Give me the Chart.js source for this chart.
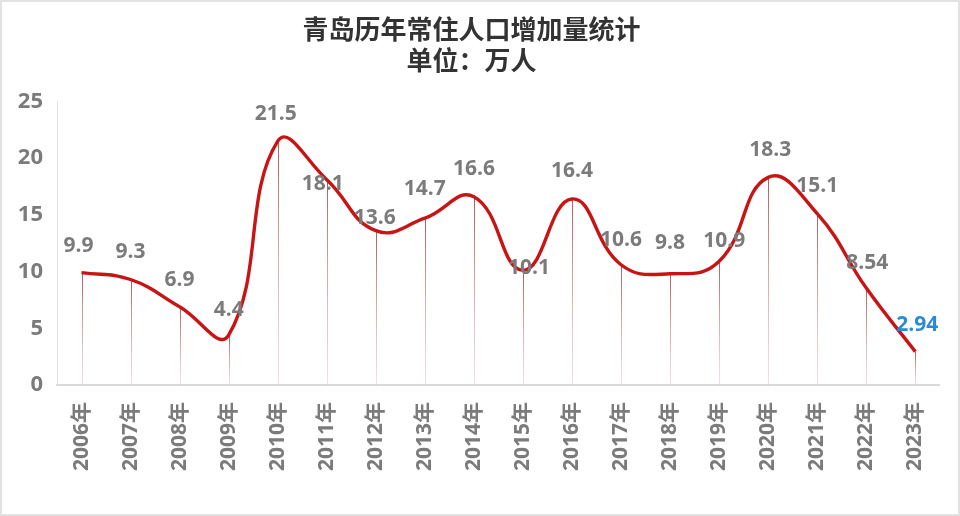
<!DOCTYPE html>
<html>
<head>
<meta charset="utf-8">
<script src="https://cdn.jsdelivr.net/npm/chart.js@4/dist/chart.umd.min.js"></script>
<style>
  html, body { margin: 0; padding: 0; background: #fff; }
  #wrap { position: relative; width: 960px; height: 516px; box-sizing: border-box; border: 2px solid #e2e2e2; }
  canvas { display: block; }
</style>
</head>
<body>
<div id="wrap"><canvas id="c" width="956" height="512"></canvas></div>
<script>
// ---- data ----
const titleLines = ['青岛历年常住人口增加量统计', '单位：万人'];
const years = ['2006年','2007年','2008年','2009年','2010年','2011年','2012年','2013年','2014年','2015年','2016年','2017年','2018年','2019年','2020年','2021年','2022年','2023年'];
const increase = [9.9, 9.3, 6.9, 4.4, 21.5, 18.1, 13.6, 14.7, 16.6, 10.1, 16.4, 10.6, 9.8, 10.9, 18.3, 15.1, 8.54, 2.94];
const labelTexts = ['9.9','9.3','6.9','4.4','21.5','18.1','13.6','14.7','16.6','10.1','16.4','10.6','9.8','10.9','18.3','15.1','8.54','2.94'];
const yTicks = [0, 5, 10, 15, 20, 25];

// ---- style ----
const CJK = '"Noto Sans CJK SC", sans-serif';
const NUM = '"Open Sans", "Noto Sans CJK SC", sans-serif';
const labelLift = [27, 27, 27, 25, 27, -4, 13, 29, 28, 2, 28, 25, 31, 20, 27, 28, 25, 27];
const labelShift = [-3, 0, 0, 0, -2, -4, -1, 0, 0, 6, 0, 0, 0, 5, 2, 0, 1, 2];

const dropLines = {
  id: 'dropLines',
  beforeDatasetsDraw(chart) {
    const ctx = chart.ctx;
    const meta = chart.getDatasetMeta(0);
    const base = chart.scales.y.getPixelForValue(0);
    ctx.save();
    ctx.lineWidth = 1;
    meta.data.forEach(pt => {
      const g = ctx.createLinearGradient(0, pt.y, 0, base);
      g.addColorStop(0, 'rgba(160,50,50,0.8)');
      g.addColorStop(1, 'rgba(220,170,170,0.35)');
      ctx.strokeStyle = g;
      ctx.beginPath();
      ctx.moveTo(Math.round(pt.x) + 0.5, pt.y);
      ctx.lineTo(Math.round(pt.x) + 0.5, base);
      ctx.stroke();
    });
    ctx.restore();
  }
};

const valueLabels = {
  id: 'valueLabels',
  afterDatasetsDraw(chart) {
    const ctx = chart.ctx;
    const meta = chart.getDatasetMeta(0);
    ctx.save();
    ctx.font = 'bold 21px ' + NUM;
    ctx.textAlign = 'center';
    ctx.textBaseline = 'middle';
    meta.data.forEach((pt, i) => {
      ctx.fillStyle = i === meta.data.length - 1 ? '#2a8ad4' : '#7b7b7b';
      ctx.fillText(labelTexts[i], pt.x + labelShift[i], pt.y - labelLift[i]);
    });
    ctx.restore();
  }
};

new Chart(document.getElementById('c'), {
  type: 'line',
  data: {
    labels: years,
    datasets: [{
      data: increase,
      borderColor: '#c81414',
      borderWidth: 3.4,
      tension: 0.45,
      pointRadius: 0,
      fill: false
    }]
  },
  options: {
    responsive: false,
    animation: false,
    layout: { padding: { left: 0, right: 17, top: 0, bottom: 0 } },
    plugins: {
      legend: { display: false },
      tooltip: { enabled: false },
      title: {
        display: true,
        text: titleLines,
        color: '#333333',
        font: { family: CJK, size: 26, weight: 'bold', lineHeight: 1.18 },
        padding: { top: 12, bottom: 26 }
      }
    },
    scales: {
      x: {
        offset: true,
        grid: { display: false, drawTicks: false },
        border: { display: true, color: '#d9d9d9', width: 2 },
        ticks: {
          color: '#7b7b7b',
          font: { family: NUM, size: 21, weight: 'bold' },
          minRotation: 90,
          maxRotation: 90,
          padding: 17,
          autoSkip: false
        },
        afterFit(s) { s.height = 129; }
      },
      y: {
        min: 0,
        max: 25,
        afterBuildTicks(s) { s.ticks = yTicks.map(v => ({ value: v })); },
        grid: { display: false, drawTicks: false },
        border: { display: true, color: '#e3e3e3', width: 1 },
        ticks: {
          color: '#7b7b7b',
          font: { family: NUM, size: 22, weight: 'bold' },
          padding: 14
        },
        afterFit(s) { s.width = 55; }
      }
    }
  },
  plugins: [dropLines, valueLabels]
});
</script>
</body>
</html>
